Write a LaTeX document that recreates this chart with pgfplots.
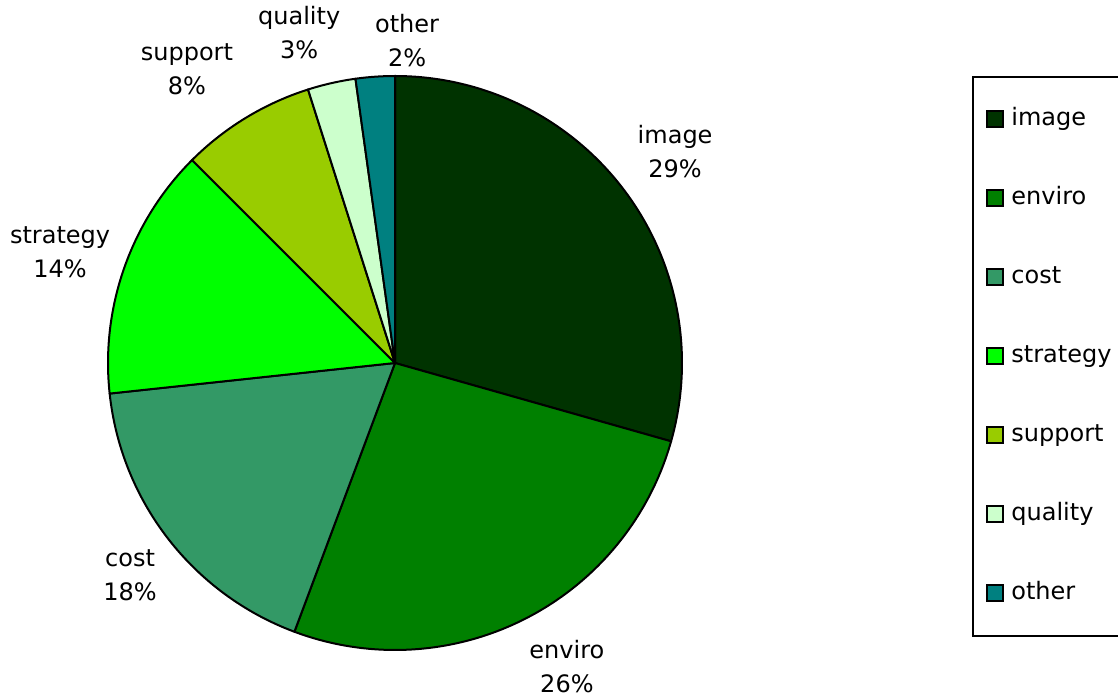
\documentclass[border=0pt]{standalone}
\usepackage{fontspec}
\setmainfont{DejaVu Sans}
\usepackage{pgfplots}
\usepackage{pgfplotstable}
\pgfplotsset{compat=1.18}

\definecolor{cimage}{HTML}{003300}
\definecolor{cenviro}{HTML}{008000}
\definecolor{ccost}{HTML}{339966}
\definecolor{cstrategy}{HTML}{00FF00}
\definecolor{csupport}{HTML}{99CC00}
\definecolor{cquality}{HTML}{CCFFCC}
\definecolor{cother}{HTML}{008080}

% share in percent, colour, label position (in units of the radius)
\pgfplotstableread{
label    value colour    lx     ly
image    29.4  cimage     0.976  0.735
enviro   26.3  cenviro    0.599 -1.059
cost     17.6  ccost     -0.923 -0.739
strategy 14.2  cstrategy -1.167  0.387
support  7.6   csupport  -0.725  1.024
quality  2.7   cquality  -0.334  1.150
other    2.2   cother     0.042  1.125
}\piedata

\begin{document}
\begin{tikzpicture}[font=\fontsize{12}{17}\selectfont]
\begin{axis}[
    name=ax,
    hide axis,
    scale only axis,
    width=559pt, height=348pt,
    xmin=-1.37631, xmax=2.51916,
    ymin=-1.16028, ymax=1.26481,
    clip=false,
    legend image code/.code={\draw[#1, line width=1pt] (0pt,-4pt) rectangle (8pt,4pt);},
    legend cell align=left,
    legend style={at={(rel axis cs:0.8703,0.8894)}, anchor=north west,
        draw=none, fill=none, inner xsep=6.5pt, inner ysep=15pt,
        row sep=27.5pt, column sep=3.5pt,
        nodes={inner sep=0pt, text height=9pt, text depth=3pt}},
]
\def\startangle{90}
\pgfplotsforeachungrouped \i in {0,...,6}{
    \pgfplotstablegetelem{\i}{value}\of\piedata \let\pval\pgfplotsretval
    \pgfplotstablegetelem{\i}{colour}\of\piedata \let\pcol\pgfplotsretval
    \pgfplotstablegetelem{\i}{label}\of\piedata \let\plab\pgfplotsretval
    \pgfplotstablegetelem{\i}{lx}\of\piedata \let\plx\pgfplotsretval
    \pgfplotstablegetelem{\i}{ly}\of\piedata \let\ply\pgfplotsretval
    \pgfmathsetmacro\endangle{\startangle-3.6*\pval}
    \pgfmathsetmacro\xs{cos(\startangle)}
    \pgfmathsetmacro\ys{sin(\startangle)}
    \pgfmathtruncatemacro\pct{round(\pval)}
    \edef\temp{%
        \noexpand\filldraw[fill=\pcol, draw=black, line width=1pt, line join=round]
            (axis cs:0,0) -- (axis cs:\xs,\ys)
            arc[start angle=\startangle, end angle=\endangle, radius=143.5pt] -- cycle;
        \noexpand\node[align=center] at (axis cs:\plx,\ply) {\plab\noexpand\\\pct\noexpand\%};
    }
    \temp
    \let\startangle\endangle
}
\addlegendimage{fill=cimage, draw=black}\addlegendentry{image}
\addlegendimage{fill=cenviro, draw=black}\addlegendentry{enviro}
\addlegendimage{fill=ccost, draw=black}\addlegendentry{cost}
\addlegendimage{fill=cstrategy, draw=black}\addlegendentry{strategy}
\addlegendimage{fill=csupport, draw=black}\addlegendentry{support}
\addlegendimage{fill=cquality, draw=black}\addlegendentry{quality}
\addlegendimage{fill=cother, draw=black}\addlegendentry{other}
% legend frame, cut off at the right edge as in the original
\draw[line width=1pt] (rel axis cs:0.8703,0.0862) rectangle (rel axis cs:1.1,0.8894);
\end{axis}
\pgfresetboundingbox
\useasboundingbox (ax.south west) rectangle (ax.north east);
\end{tikzpicture}
\end{document}
